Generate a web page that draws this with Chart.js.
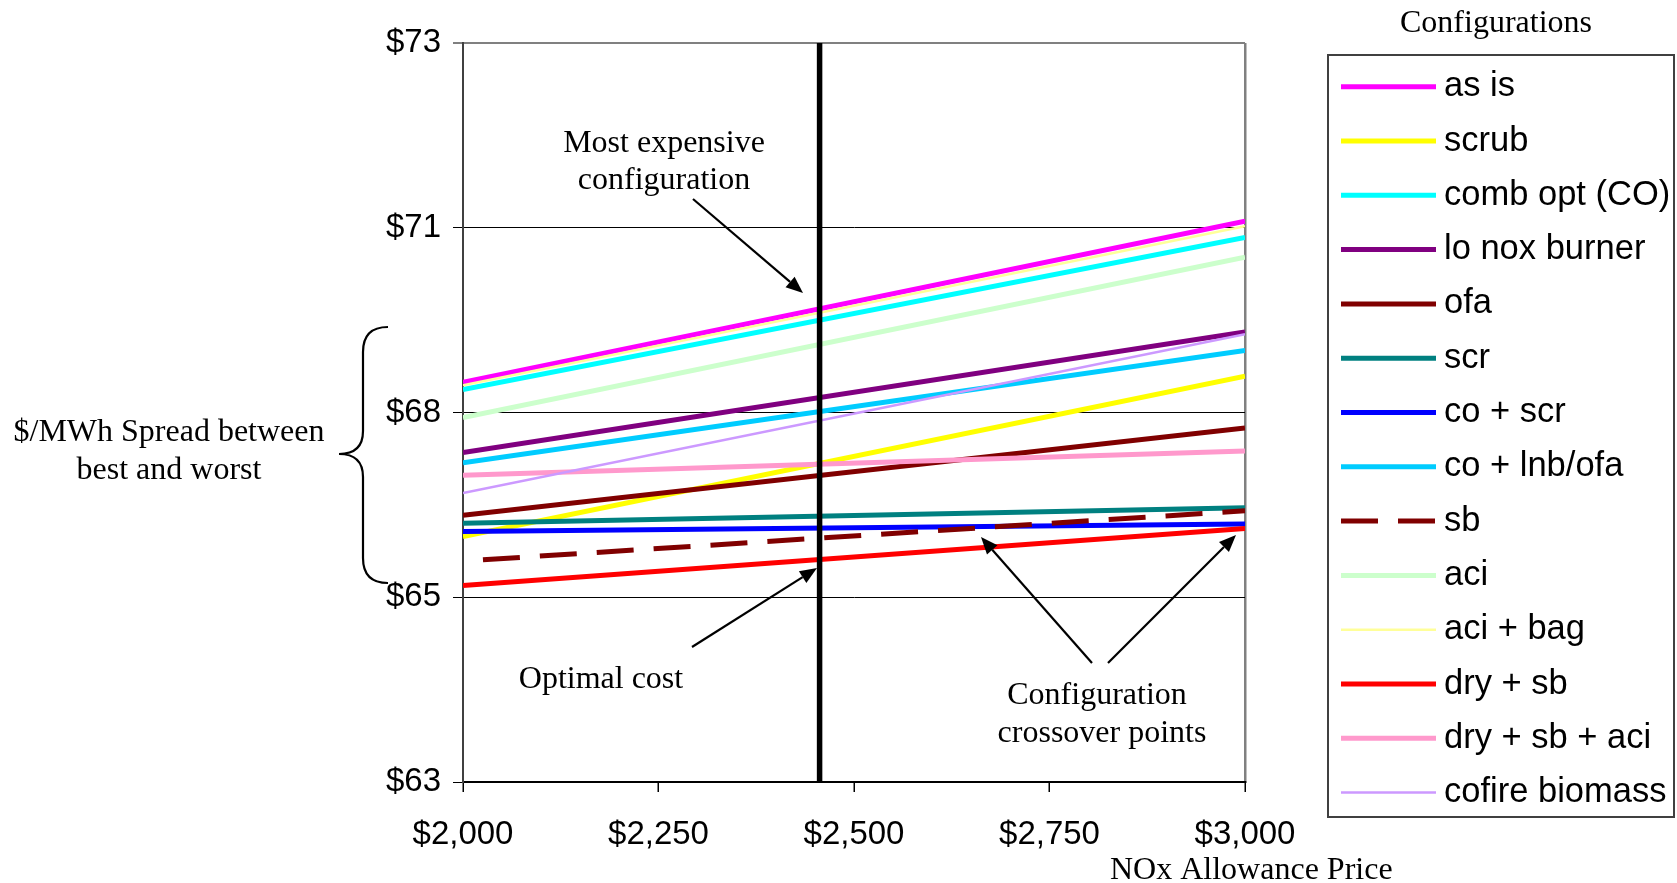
<!DOCTYPE html>
<html>
<head>
<meta charset="utf-8">
<script src="https://cdn.jsdelivr.net/npm/chart.js@4.4.1/dist/chart.umd.min.js"></script>
<style>
  html, body { margin: 0; padding: 0; background: #fff; }
  #wrap { width: 1677px; height: 883px; }
</style>
</head>
<body>
<div id="wrap"><canvas id="c" width="1677" height="883"></canvas></div>
<script>
// NOx allowance price ($/ton) at the two ends of each cost line
const prices = [2000, 3000];
const xTickLabels = ['$2,000', '$2,250', '$2,500', '$2,750', '$3,000'];
const yTickLabels = ['$63', '$65', '$68', '$71', '$73'];

// Configuration names, in legend order
const configurations = [
  'as is', 'scrub', 'comb opt (CO)', 'lo nox burner', 'ofa', 'scr', 'co + scr',
  'co + lnb/ofa', 'sb', 'aci', 'aci + bag', 'dry + sb', 'dry + sb + aci', 'cofire biomass'
];

// $/MWh cost at $2,000 and $3,000 allowance price
const asIs          = [68.41, 70.59];
const scrub         = [66.32, 68.49];
const combOpt       = [68.31, 70.37];
const loNoxBurner   = [67.46, 69.09];
const ofa           = [66.61, 67.79];
const scr           = [66.50, 66.71];
const coScr         = [66.39, 66.49];
const coLnbOfa      = [67.32, 68.84];
const sb            = [65.99, 66.67];
const aci           = [67.93, 70.10];
const aciBag        = [68.37, 70.52];
const drySb         = [65.66, 66.43];
const drySbAci      = [67.15, 67.48];
const cofireBiomass = [66.91, 69.06];

const seriesValues = [asIs, scrub, combOpt, loNoxBurner, ofa, scr, coScr,
  coLnbOfa, sb, aci, aciBag, drySb, drySbAci, cofireBiomass];

// Allowance price at the optimal configuration
const optimalPrice = 2456;

// Line styles per configuration
const lineStyles = [
  { color: '#FF00FF', width: 5 },
  { color: '#FFFF00', width: 5 },
  { color: '#00FFFF', width: 5 },
  { color: '#800080', width: 5 },
  { color: '#800000', width: 5 },
  { color: '#008080', width: 5 },
  { color: '#0000FF', width: 5 },
  { color: '#00CCFF', width: 5 },
  { color: '#800000', width: 5, dash: [37, 20], dashOffset: 37 },
  { color: '#CCFFCC', width: 5 },
  { color: '#FFFF99', width: 2.5 },
  { color: '#FF0000', width: 5 },
  { color: '#FF99CC', width: 5 },
  { color: '#CC99FF', width: 2.5 }
];

const n = configurations.length;
const datasets = configurations.map((name, i) => ({
  label: name,
  data: prices.map((p, k) => ({ x: p, y: seriesValues[i][k] })),
  borderColor: lineStyles[i].color,
  backgroundColor: lineStyles[i].color,
  borderWidth: lineStyles[i].width,
  borderDash: lineStyles[i].dash || [],
  borderDashOffset: lineStyles[i].dashOffset || 0,
  pointRadius: 0,
  fill: false,
  order: n - i + 1   // later configurations are drawn over earlier ones
}));

datasets.push({
  label: 'optimal',
  data: [{ x: optimalPrice, y: 63 }, { x: optimalPrice, y: 73 }],
  borderColor: '#000',
  borderWidth: 5.5,
  pointRadius: 0,
  fill: false,
  clip: { left: 0, right: 0, top: 4, bottom: 10 },
  order: 0
});

const SANS = '"Liberation Sans", Arial, sans-serif';
const SERIF = '"Liberation Serif", "Times New Roman", serif';

function arrow(c, x1, y1, x2, y2) {
  const a = Math.atan2(y2 - y1, x2 - x1);
  const head = 17, half = 7;
  const bx = x2 - head * Math.cos(a), by = y2 - head * Math.sin(a);
  c.strokeStyle = '#000';
  c.fillStyle = '#000';
  c.lineWidth = 2.2;
  c.setLineDash([]);
  c.beginPath(); c.moveTo(x1, y1); c.lineTo(bx, by); c.stroke();
  c.beginPath();
  c.moveTo(x2, y2);
  c.lineTo(bx + half * Math.sin(a), by - half * Math.cos(a));
  c.lineTo(bx - half * Math.sin(a), by + half * Math.cos(a));
  c.closePath(); c.fill();
}

const decorations = {
  id: 'decorations',
  afterDraw(chart) {
    const c = chart.ctx;
    c.save();

    // Legend panel
    c.fillStyle = '#000';
    c.font = '32px ' + SERIF;
    c.textAlign = 'center';
    c.textBaseline = 'alphabetic';
    c.fillText('Configurations', 1496, 32);

    c.strokeStyle = '#404040';
    c.lineWidth = 2;
    c.strokeRect(1328, 55, 346, 762);

    configurations.forEach((name, i) => {
      const ds = chart.data.datasets[i];
      const y = 86.7 + i * 54.3;
      c.beginPath();
      c.strokeStyle = ds.borderColor;
      c.lineWidth = ds.borderWidth;
      c.setLineDash(ds.borderDash);
      c.lineDashOffset = 0;
      c.moveTo(1341, y);
      c.lineTo(1436, y);
      c.stroke();
      c.setLineDash([]);
      c.fillStyle = '#000';
      c.font = '34.5px ' + SANS;
      c.textAlign = 'left';
      c.textBaseline = 'middle';
      c.fillText(name, 1444, y);
    });

    // Annotations
    c.fillStyle = '#000';
    c.font = '32px ' + SERIF;
    c.textAlign = 'center';
    c.textBaseline = 'alphabetic';
    c.fillText('Most expensive', 664, 152);
    c.fillText('configuration', 664, 189);
    c.fillText('Optimal cost', 601, 688);
    c.fillText('Configuration', 1097, 704);
    c.fillText('crossover points', 1102, 742);
    c.fillText('$/MWh Spread between', 169, 441);
    c.fillText('best and worst', 169, 479);
    c.textAlign = 'left';
    c.fillText('NOx Allowance Price', 1110, 879);

    arrow(c, 693, 199, 803, 293);
    arrow(c, 692, 647, 817, 568);
    arrow(c, 1092, 663, 981, 537);
    arrow(c, 1108, 663, 1236, 535);

    // Brace spanning the cost spread
    c.strokeStyle = '#000';
    c.lineWidth = 2.2;
    c.beginPath();
    c.moveTo(388, 327);
    c.quadraticCurveTo(363, 327, 363, 352);
    c.lineTo(363, 431);
    c.quadraticCurveTo(363, 454, 339, 454);
    c.quadraticCurveTo(363, 454, 363, 477);
    c.lineTo(363, 558);
    c.quadraticCurveTo(363, 583, 388, 583);
    c.stroke();

    c.restore();
  }
};

new Chart(document.getElementById('c'), {
  type: 'line',
  data: { datasets },
  options: {
    responsive: false,
    animation: false,
    devicePixelRatio: 1,
    layout: { padding: { left: 0, right: 432, top: 43, bottom: 0 } },
    plugins: { legend: { display: false }, tooltip: { enabled: false } },
    elements: { line: { tension: 0 }, point: { radius: 0 } },
    scales: {
      x: {
        type: 'linear',
        min: 2000,
        max: 3000,
        ticks: {
          stepSize: 250,
          autoSkip: false,
          maxRotation: 0,
          color: '#000',
          padding: 23,
          font: { family: SANS, size: 33 },
          callback: (v, i) => xTickLabels[i]
        },
        grid: {
          drawOnChartArea: true,
          color: (ctx) => (ctx.index === xTickLabels.length - 1 ? '#808080' : 'rgba(0,0,0,0)'),
          lineWidth: 2.5,
          tickColor: '#000',
          tickLength: 10,
          tickWidth: 1.5
        },
        border: { color: '#000', width: 2 },
        afterFit: (s) => { s.height = 101; }
      },
      y: {
        min: 63,
        max: 73,
        ticks: {
          stepSize: 2.5,
          color: '#000',
          padding: 12,
          font: { family: SANS, size: 33 },
          callback: (v, i) => yTickLabels[i]
        },
        grid: {
          color: (ctx) => (ctx.tick && ctx.tick.value === 73 ? '#808080' : '#000'),
          lineWidth: (ctx) => (ctx.tick && ctx.tick.value === 73 ? 2 : 1),
          tickColor: '#000',
          tickLength: 10,
          tickWidth: 1
        },
        border: { color: '#404040', width: 2 },
        afterFit: (s) => { s.width = 463; }
      }
    }
  },
  plugins: [decorations]
});
</script>
</body>
</html>
